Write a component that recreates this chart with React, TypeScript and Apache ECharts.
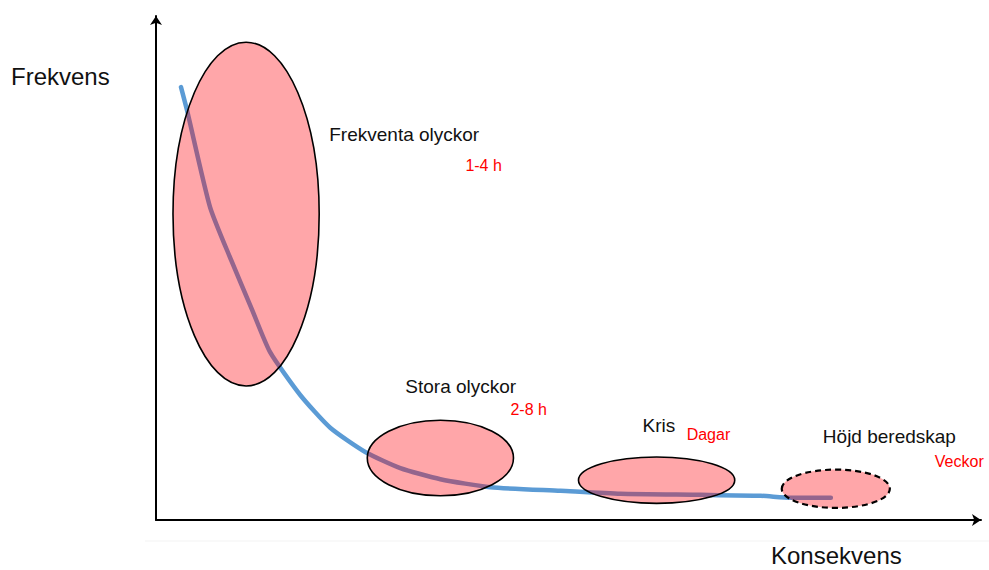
import React, { useEffect, useRef } from "react";
import * as echarts from "echarts";

// Blue curve (frequency vs. consequence), abstract units 0..100
const curveX = [3.03, 3.76, 6.55, 9.1, 11.65, 13.83, 17.48, 21.12, 25.36, 29.61, 34.47, 40.53, 49.03, 56.31, 66.02, 73.3, 76.94, 81.8];
const curveY = [85.9, 81.3, 62.1, 51.6, 41.7, 33.3, 24.8, 18.3, 13.5, 10.3, 8.1, 6.5, 5.8, 5.2, 5.0, 4.8, 4.4, 4.4];

// Ellipses: centre x, centre y, radius x, radius y (data units), dashed?
const ellipseCx = [10.92, 34.47, 60.68, 82.4];
const ellipseCy = [60.7, 12.3, 7.9, 6.2];
const ellipseRx = [8.86, 8.86, 9.47, 6.55];
const ellipseRy = [34.1, 7.5, 4.6, 3.8];
const ellipseDashed = [false, false, false, true];

// Category labels and their durations
const labelTexts = ["Frekventa olyckor", "Stora olyckor", "Kris", "Höjd beredskap"];
const labelX = [21.0, 30.22, 58.98, 80.83];
const labelY = [76.4, 26.4, 18.8, 16.5];
const durationTexts = ["1-4 h", "2-8 h", "Dagar", "Veckor"];
const durationX = [37.5, 42.96, 64.32, 94.4];
const durationY = [70.4, 22.0, 16.9, 11.7];

const yAxisTitle = "Frekvens";
const xAxisTitle = "Konsekvens";

const FONT = "'Liberation Sans', Arial, Helvetica, sans-serif";

export default function App() {
  const ref = useRef<HTMLDivElement>(null);

  useEffect(() => {
    if (!ref.current) return;
    document.body.style.margin = "0";
    document.body.style.overflow = "hidden";
    const chart = echarts.init(ref.current, null, { renderer: "svg" });

    const curveData = curveX.map((x, i) => [x, curveY[i]]);
    const ellipseData = ellipseCx.map((cx, i) => [cx, ellipseCy[i], ellipseRx[i], ellipseRy[i], ellipseDashed[i] ? 1 : 0]);
    const labelData = labelTexts.map((t, i) => [labelX[i], labelY[i], t]);
    const durationData = durationTexts.map((t, i) => [durationX[i], durationY[i], t]);

    const axisCommon = {
      type: "value" as const,
      min: 0,
      max: 100,
      splitLine: { show: false },
      axisTick: { show: false },
      axisLabel: { show: false },
      axisLine: {
        show: true,
        symbol: ["none", "arrow"],
        symbolSize: [9, 9],
        lineStyle: { color: "#000", width: 2 },
      },
    };

    const textSeries = (data: any[], color: string, size: number, z: number) => ({
      type: "custom" as const,
      z,
      silent: true,
      data,
      renderItem: (params: any, api: any) => {
        const p = api.coord([api.value(0), api.value(1)]);
        return {
          type: "text",
          x: p[0],
          y: p[1],
          style: {
            text: data[params.dataIndex][2],
            fill: color,
            fontSize: size,
            fontFamily: FONT,
            align: "left",
            verticalAlign: "middle",
          },
        };
      },
    });

    chart.setOption({
      animation: false,
      backgroundColor: "#fff",
      grid: { left: 156, right: 8, top: 16, bottom: 50 },
      xAxis: { ...axisCommon },
      yAxis: { ...axisCommon },
      graphic: [
        {
          type: "line",
          shape: { x1: 145, y1: 541, x2: 989, y2: 541 },
          style: { stroke: "#f3f3f3", lineWidth: 1 },
          silent: true,
        },
        {
          type: "text",
          left: 11,
          top: 64,
          style: { text: yAxisTitle, fill: "#111", fontSize: 24, fontFamily: FONT },
        },
        {
          type: "text",
          left: 771,
          top: 543,
          style: { text: xAxisTitle, fill: "#111", fontSize: 24, fontFamily: FONT },
        },
      ],
      series: [
        {
          type: "line",
          z: 2,
          data: curveData,
          showSymbol: false,
          smooth: 0.2,
          lineStyle: { color: "#5B9BD5", width: 4.5, cap: "round", join: "round" },
          silent: true,
        },
        {
          type: "custom",
          z: 3,
          silent: true,
          data: ellipseData,
          renderItem: (_params: any, api: any) => {
            const c = api.coord([api.value(0), api.value(1)]);
            const s = api.size([api.value(2), api.value(3)]);
            const dashed = api.value(4) === 1;
            return {
              type: "ellipse",
              shape: { cx: c[0], cy: c[1], rx: s[0], ry: s[1] },
              style: {
                fill: "rgba(255,0,10,0.35)",
                stroke: "#000",
                lineWidth: dashed ? 2.2 : 1.6,
                lineDash: dashed ? [6, 4] : null,
              },
            };
          },
        },
        textSeries(labelData, "#111", 19, 4),
        textSeries(durationData, "#FF0000", 16, 4),
      ],
    });

    return () => chart.dispose();
  }, []);

  return (
    <div
      ref={ref}
      style={{ position: "absolute", left: 0, top: 0, width: 989, height: 570 }}
    />
  );
}
